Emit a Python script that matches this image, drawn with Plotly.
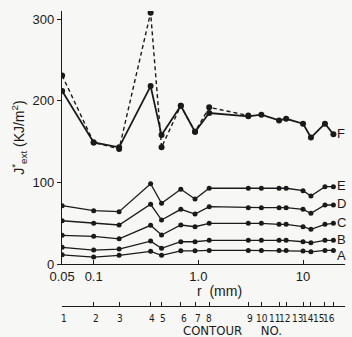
import math
import plotly.graph_objects as go

# ---- data ----
contour_no = [str(i) for i in range(1, 17)]
r_mm = [0.05, 0.1, 0.175, 0.35, 0.445, 0.68, 0.93, 1.27, 3.0, 4.0, 5.9, 6.9, 10.0, 11.9, 16.2, 19.5]

F_solid = [212, 149, 143, 218, 158, 194, 162, 185, 181, 183, 176, 178, 172, 155, 172, 159]
F_dash_r = [0.05, 0.1, 0.175, 0.35, 0.445, 0.68, 0.93, 1.27, 3.0]
F_dash = [231, 149, 141, 308, 143, 194, 162, 192, 182]
E = [71.5, 65.4, 64.2, 98.5, 74.5, 91.7, 79.8, 92.9, 92.9, 92.9, 92.9, 92.9, 90.0, 83.4, 94.8, 94.8]
D = [53.1, 49.9, 47.9, 73.3, 54.0, 67.1, 61.3, 70.3, 69.1, 69.1, 69.1, 69.1, 67.1, 62.2, 72.4, 72.4]
C = [35.2, 34.0, 31.0, 47.5, 35.6, 47.9, 45.8, 49.9, 49.9, 49.9, 48.7, 48.7, 45.8, 42.6, 48.7, 49.9]
B = [20.5, 17.2, 18.4, 28.2, 19.3, 27.4, 27.4, 29.1, 29.1, 29.1, 29.1, 29.1, 27.4, 26.1, 29.1, 29.1]
A = [11.4, 8.6, 10.7, 15.6, 10.7, 16.3, 16.3, 16.8, 16.8, 16.8, 16.8, 16.8, 16.0, 15.1, 16.8, 16.8]

series_names = ["A", "B", "C", "D", "E"]
series_vals = [A, B, C, D, E]

r_ticks = [0.05, 0.1, 1.0, 10]
r_ticktext = ["0.05", "0.1", "1.0", "10"]
y_ticks = [0, 100, 200, 300]

INK = "#1a1a1a"
FONT = "Liberation Sans, Arial, sans-serif"
NARROW = "DejaVu Sans Condensed, Liberation Sans, sans-serif"

# style: horizontal nudges (px) of the crowded contour-number labels
contour_label_shift = [2, 2, 1, 1, 1, 3, 3, 0, 2, 1, -5, -2, -6, -3, -6, -4]

fig = go.Figure()

for name, vals in zip(series_names, series_vals):
    fig.add_trace(go.Scatter(x=r_mm, y=vals, mode="lines+markers",
                             line=dict(color=INK, width=1.3),
                             marker=dict(color=INK, size=5),
                             showlegend=False, hoverinfo="skip"))

fig.add_trace(go.Scatter(x=F_dash_r, y=F_dash, mode="lines+markers",
                         line=dict(color=INK, width=1.4, dash="4px,3px"),
                         marker=dict(color=INK, size=6),
                         showlegend=False, hoverinfo="skip"))
fig.add_trace(go.Scatter(x=r_mm, y=F_solid, mode="lines+markers",
                         line=dict(color=INK, width=1.8),
                         marker=dict(color=INK, size=6),
                         showlegend=False, hoverinfo="skip"))

# series labels at the right end (text trace on the last points)
lab_names = ["F", "E", "D", "C", "B", "A"]
lab_y = [F_solid[-1], E[-1], D[-1], C[-1], B[-1], A[-1] - 8]
fig.add_trace(go.Scatter(x=[r_mm[-1]] * len(lab_names), y=lab_y, mode="text",
                         text=["&nbsp;" + t for t in lab_names],
                         textposition="middle right", cliponaxis=False,
                         textfont=dict(size=13, color=INK, family=FONT),
                         showlegend=False, hoverinfo="skip"))

# invisible trace to carry the contour-number axis (its own thin subplot)
fig.add_trace(go.Scatter(x=r_mm, y=[0] * len(r_mm), xaxis="x2", yaxis="y2",
                         mode="markers", marker=dict(opacity=0),
                         showlegend=False, hoverinfo="skip"))

# contour-number labels under the contour axis (annotation x on log axis = log10)
for r, lab, dx in zip(r_mm, contour_no, contour_label_shift):
    fig.add_annotation(x=math.log10(r), xref="x2", y=0, yref="paper", text=lab,
                       showarrow=False, xanchor="center", yanchor="middle",
                       xshift=dx, yshift=-12,
                       font=dict(size=10, color=INK, family=NARROW))

xr = [-1.3025, 1.401]
fig.update_layout(
    width=352, height=337,
    margin=dict(l=62, r=7, t=11, b=31, autoexpand=False),
    paper_bgcolor="#f7f7f5", plot_bgcolor="#f7f7f5",
    font=dict(family=FONT, color=INK, size=12),
    xaxis=dict(type="log", range=xr, anchor="y", automargin=False,
               tickmode="array", tickvals=r_ticks, ticktext=r_ticktext,
               ticks="inside", ticklen=4, tickwidth=1.2, tickcolor=INK,
               showline=True, linecolor=INK, linewidth=1.3,
               showgrid=False, zeroline=False,
               tickfont=dict(size=13), tickangle=0),
    xaxis2=dict(type="log", range=xr, anchor="y2", automargin=False,
                tickmode="array", tickvals=r_mm, ticktext=[""] * len(r_mm),
                ticks="inside", ticklen=4, tickwidth=1.2, tickcolor=INK,
                showline=True, linecolor=INK, linewidth=1.3,
                showgrid=False, zeroline=False),
    yaxis=dict(range=[0, 310], domain=[0.142, 1], automargin=False,
               tickvals=y_ticks, ticks="outside", ticklen=4, tickwidth=1,
               tickcolor=INK, showline=True, linecolor=INK, linewidth=1.3,
               showgrid=False, zeroline=False, tickfont=dict(size=13),
               title=dict(text="J<sup>*</sup><sub>ext</sub> (KJ/m<sup>2</sup>)",
                          font=dict(size=14), standoff=4)),
    yaxis2=dict(domain=[0, 0.03], range=[0, 1], anchor="x2",
                showline=False, showticklabels=False, ticks="",
                showgrid=False, zeroline=False, automargin=False),
)

fig.add_annotation(xref="paper", yref="paper", x=0.555, y=0.05,
                   xanchor="center", yanchor="middle",
                   text="r&nbsp;&nbsp;(mm)", showarrow=False,
                   font=dict(size=14, color=INK, family=FONT))
fig.add_annotation(xref="paper", yref="paper", x=0.604, y=-0.082,
                   xanchor="center", yanchor="middle",
                   text="CONTOUR&nbsp;&nbsp;&nbsp;&nbsp;&nbsp;NO.", showarrow=False,
                   font=dict(size=13, color=INK, family=NARROW))

fig.write_html("out.html", config={"displayModeBar": False},
               post_script="document.body.style.margin='0px';")
